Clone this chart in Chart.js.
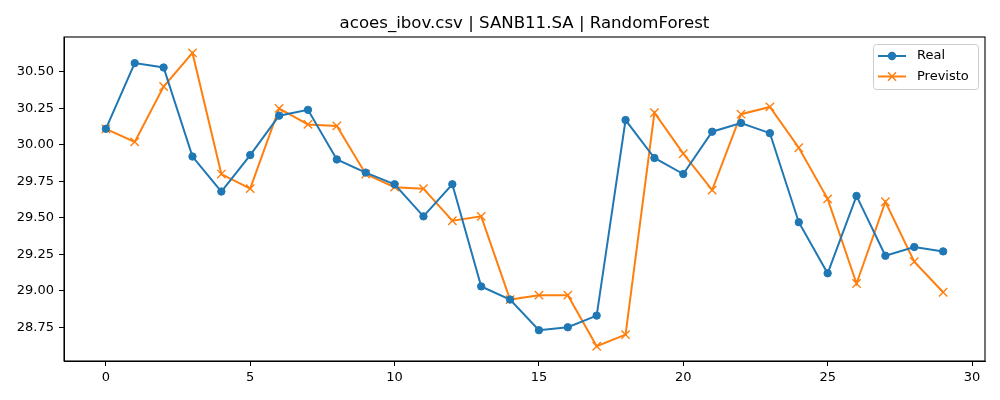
<!DOCTYPE html>
<html>
<head>
<meta charset="utf-8">
<script src="https://cdn.jsdelivr.net/npm/chart.js@4"></script>
<style>
  body { margin: 0; background: #fff; }
</style>
</head>
<body>
<canvas id="grafico" width="1000" height="400"></canvas>
<script>
// Eixo X (índice das amostras)
const indices = [0, 1, 2, 3, 4, 5, 6, 7, 8, 9, 10, 11, 12, 13, 14, 15, 16, 17, 18, 19, 20, 21, 22, 23, 24, 25, 26, 27, 28, 29]

// Valores reais - azul
const real = [30.11, 30.56, 30.53, 29.92, 29.68, 29.93, 30.20, 30.24, 29.90, 29.81,
              29.73, 29.51, 29.73, 29.03, 28.94, 28.73, 28.75, 28.83, 30.17, 29.91,
              29.80, 30.09, 30.15, 30.08, 29.47, 29.12, 29.65, 29.24, 29.30, 29.27]

// Valores previstos - laranja
const previsto = [30.11, 30.02, 30.40, 30.63, 29.80, 29.70, 30.25, 30.14, 30.13, 29.80,
                  29.71, 29.70, 29.48, 29.51, 28.94, 28.97, 28.97, 28.62, 28.70, 30.22,
                  29.94, 29.69, 30.21, 30.26, 29.98, 29.63, 29.05, 29.61, 29.20, 28.99]

// Marcas dos eixos
const ticksX = [0, 5, 10, 15, 20, 25, 30]
const ticksY = [28.75, 29.00, 29.25, 29.50, 29.75, 30.00, 30.25, 30.50]

const titulo = 'acoes_ibov.csv | SANB11.SA | RandomForest'
const fonte = 'DejaVu Sans'

// Título centrado na área do gráfico, moldura e legenda dentro da área
const molduraLegenda = {
    id: 'molduraLegenda',
    afterDraw(chart) {
        const ctx = chart.ctx
        const a = chart.chartArea
        ctx.save()

        // título
        ctx.fillStyle = '#000'
        ctx.font = '16.6px "' + fonte + '"'
        ctx.textAlign = 'center'
        ctx.textBaseline = 'alphabetic'
        ctx.fillText(titulo, (a.left + a.right) / 2, 28.3)

        // moldura
        ctx.strokeStyle = '#000'
        ctx.lineWidth = 1.1
        ctx.strokeRect(a.left, a.top, a.right - a.left, a.bottom - a.top)

        // caixa da legenda
        const bx = 873.5, by = 44.5, bw = 105, bh = 45
        ctx.fillStyle = 'rgba(255,255,255,0.8)'
        ctx.strokeStyle = '#cccccc'
        ctx.lineWidth = 1
        ctx.beginPath()
        ctx.roundRect(bx, by, bw, bh, 3)
        ctx.fill()
        ctx.stroke()

        ctx.textAlign = 'left'
        chart.data.datasets.forEach((ds, i) => {
            const y = 56 + i * 20.5
            ctx.strokeStyle = ds.borderColor
            ctx.lineWidth = 2
            ctx.beginPath()
            ctx.moveTo(878, y)
            ctx.lineTo(906, y)
            ctx.stroke()
            if (ds.pointStyle === 'circle') {
                ctx.fillStyle = ds.borderColor
                ctx.beginPath()
                ctx.arc(892, y, 4.2, 0, Math.PI * 2)
                ctx.fill()
            } else {
                ctx.lineWidth = 1.4
                ctx.beginPath()
                ctx.moveTo(888, y - 4.2); ctx.lineTo(896, y + 4.2)
                ctx.moveTo(888, y + 4.2); ctx.lineTo(896, y - 4.2)
                ctx.stroke()
            }
            ctx.fillStyle = '#000'
            ctx.font = '13px "' + fonte + '"'
            ctx.textBaseline = 'middle'
            ctx.fillText(ds.label, 917, y)
        })
        ctx.restore()
    }
}

const data = {
    datasets: [{
        label: 'Real',
        data: indices.map((x, i) => ({ x: x, y: real[i] })),
        borderColor: '#1f77b4',
        backgroundColor: '#1f77b4',
        borderWidth: 2,
        pointStyle: 'circle',
        pointRadius: 3.7,
        pointBorderWidth: 1
    },
    {
        label: 'Previsto',
        data: indices.map((x, i) => ({ x: x, y: previsto[i] })),
        borderColor: '#ff7f0e',
        backgroundColor: '#ff7f0e',
        borderWidth: 2,
        pointStyle: 'crossRot',
        pointRadius: 5.9,
        pointBorderWidth: 1.4
    }]
}

const config = {
    type: 'line',
    data: data,
    plugins: [molduraLegenda],
    options: {
        responsive: false,
        animation: false,
        layout: { padding: { left: 0, right: 15, top: 37, bottom: 0 } },
        plugins: {
            legend: { display: false },
            tooltip: { enabled: false },
            title: { display: false }
        },
        scales: {
            x: {
                type: 'linear',
                min: -1.45,
                max: 30.45,
                afterBuildTicks: s => { s.ticks = ticksX.map(v => ({ value: v })) },
                afterFit: s => { s.height = 39 },
                ticks: {
                    color: '#000',
                    font: { family: fonte, size: 13 },
                    padding: 4,
                    maxRotation: 0,
                    callback: v => String(v)
                },
                grid: { display: true, drawOnChartArea: false, drawTicks: true, tickLength: 5, color: '#000' },
                border: { display: true, color: '#000' }
            },
            y: {
                type: 'linear',
                min: 28.519,
                max: 30.739,
                afterBuildTicks: s => { s.ticks = ticksY.map(v => ({ value: v })) },
                afterFit: s => { s.width = 64 },
                ticks: {
                    color: '#000',
                    font: { family: fonte, size: 13 },
                    padding: 5,
                    callback: v => v.toFixed(2)
                },
                grid: { display: true, drawOnChartArea: false, drawTicks: true, tickLength: 5, color: '#000' },
                border: { display: true, color: '#000' }
            }
        }
    }
}

const grafico = new Chart(document.getElementById('grafico'), config)
</script>
</body>
</html>
